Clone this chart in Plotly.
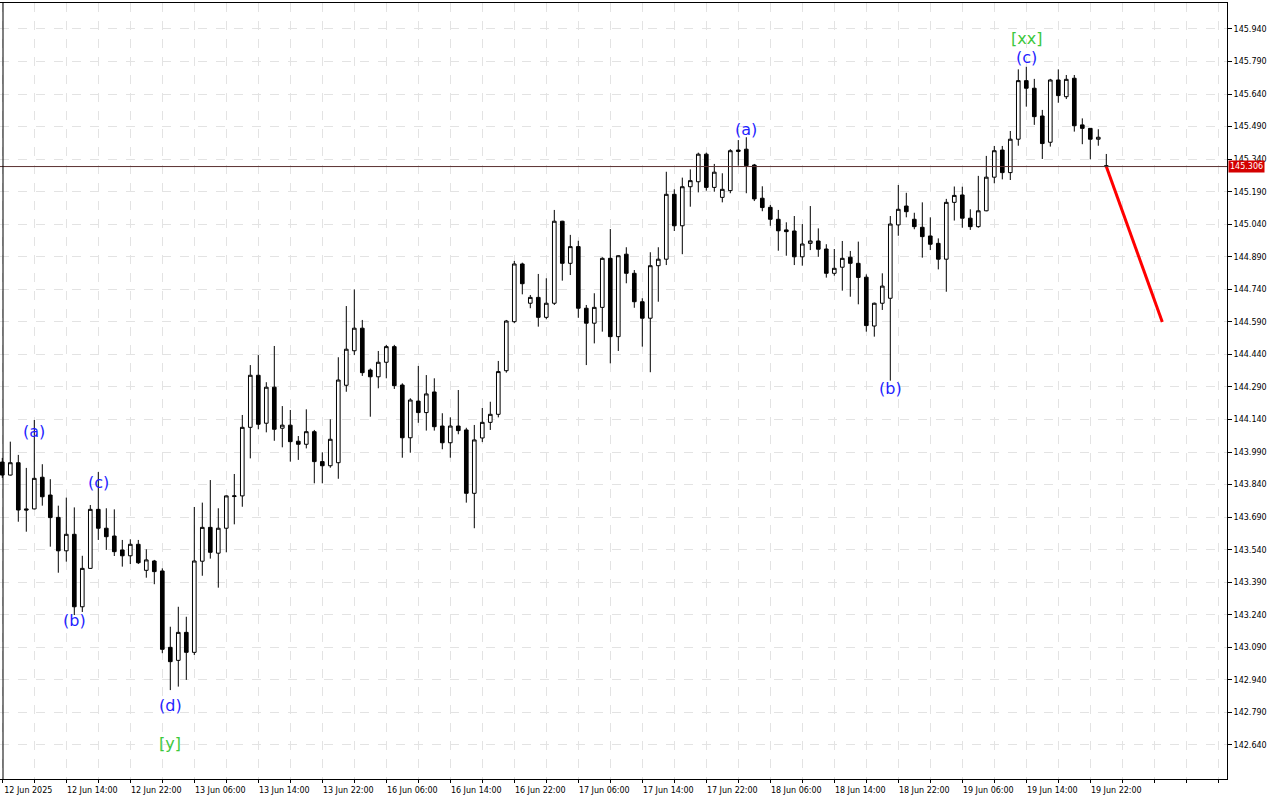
import plotly.graph_objects as go

# ---------------- data ----------------
open_ = [143.944,143.884,143.941,143.728,143.728,143.874,143.792,143.689,143.535,143.611,
         143.277,143.454,143.726,143.639,143.603,143.539,143.512,143.565,143.445,143.488,
         143.442,143.090,143.030,143.159,143.067,143.487,143.643,143.524,143.639,143.785,
         143.788,144.104,144.344,144.123,144.289,144.100,144.114,144.040,144.026,144.084,
         143.946,143.927,143.941,144.298,144.457,144.561,144.368,144.337,144.404,144.476,
         144.299,144.056,144.225,144.172,144.267,144.110,144.033,144.110,144.092,143.800,
         144.055,144.127,144.164,144.365,144.591,144.857,144.676,144.703,144.611,144.676,
         145.054,144.860,144.937,144.653,144.584,144.657,144.883,144.522,144.902,144.814,
         144.683,144.607,144.849,144.879,145.178,145.033,145.213,145.236,145.363,145.210,
         145.164,145.195,145.382,145.386,145.313,145.160,145.118,145.063,145.014,145.009,
         144.890,144.952,144.963,144.926,144.814,144.842,144.888,144.860,144.796,144.571,
         144.676,144.699,145.037,145.124,145.063,145.026,144.986,144.952,144.879,145.141,
         145.175,145.068,145.029,145.102,145.257,145.382,145.278,145.432,145.702,145.667,
         145.539,145.418,145.705,145.628,145.713,145.498,145.482,145.432,145.310]
high = [143.963,144.038,143.977,143.917,144.138,143.934,143.865,143.743,143.780,143.735,
        143.512,143.746,143.898,143.731,143.726,143.585,143.588,143.585,143.542,143.493,
        143.454,143.185,143.277,143.231,143.737,143.757,143.861,143.731,143.790,143.889,
        144.161,144.391,144.437,144.312,144.479,144.202,144.184,144.064,144.187,144.092,
        143.989,144.141,144.427,144.663,144.740,144.599,144.375,144.456,144.484,144.484,
        144.307,144.238,144.387,144.345,144.330,144.169,144.150,144.276,144.102,144.115,
        144.193,144.222,144.410,144.599,144.871,144.863,144.714,144.811,144.791,145.106,
        145.056,144.991,144.964,144.668,144.722,144.888,145.018,144.897,144.934,144.829,
        144.699,144.911,144.934,145.282,145.201,145.255,145.293,145.370,145.370,145.318,
        145.275,145.386,145.428,145.441,145.318,145.215,145.129,145.106,145.049,145.078,
        145.041,145.124,145.021,144.948,144.926,144.963,144.917,144.960,144.809,144.679,
        144.814,145.078,145.221,145.185,145.093,145.141,145.072,144.975,145.157,145.214,
        145.213,145.109,145.263,145.355,145.401,145.401,145.470,145.754,145.766,145.710,
        145.567,145.710,145.754,145.728,145.728,145.528,145.483,145.478,145.364]
low = [143.871,143.882,143.669,143.623,143.726,143.743,143.554,143.434,143.485,143.239,
       143.253,143.452,143.585,143.539,143.511,143.462,143.474,143.474,143.411,143.381,
       143.063,142.893,142.909,142.940,143.055,143.420,143.499,143.365,143.528,143.657,
       143.738,143.961,144.095,144.081,144.042,144.012,143.946,143.954,144.007,143.846,
       143.846,143.918,143.867,144.268,144.437,144.341,144.153,144.284,144.330,144.281,
       143.964,143.987,144.125,144.089,144.089,144.003,143.964,144.072,143.757,143.639,
       144.036,144.092,144.150,144.356,144.584,144.717,144.653,144.568,144.602,144.668,
       144.780,144.806,144.609,144.391,144.491,144.545,144.399,144.456,144.768,144.655,
       144.476,144.358,144.683,144.852,145.009,144.902,145.121,145.187,145.195,145.190,
       145.141,145.183,145.310,145.183,145.147,145.100,145.033,144.918,144.895,144.852,
       144.849,144.921,144.890,144.794,144.803,144.734,144.706,144.671,144.545,144.522,
       144.645,144.319,144.987,145.072,145.017,144.886,144.921,144.832,144.729,145.057,
       145.024,145.014,145.024,145.100,145.229,145.247,145.244,145.402,145.582,145.498,
       145.341,145.398,145.600,145.617,145.467,145.409,145.339,145.402,145.303]
close = [143.884,143.941,143.723,143.723,143.869,143.784,143.688,143.535,143.611,143.277,
         143.454,143.726,143.639,143.600,143.531,143.512,143.565,143.480,143.493,143.439,
         143.081,143.024,143.159,143.067,143.488,143.643,143.528,143.639,143.788,143.788,
         144.104,144.344,144.118,144.289,144.095,144.114,144.038,144.026,144.084,143.946,
         143.927,144.049,144.322,144.464,144.561,144.356,144.337,144.404,144.476,144.296,
         144.056,144.230,144.172,144.258,144.107,144.033,144.110,144.089,143.800,144.046,
         144.127,144.164,144.361,144.594,144.857,144.766,144.703,144.611,144.676,145.054,
         144.860,144.937,144.653,144.584,144.657,144.883,144.522,144.895,144.814,144.683,
         144.607,144.849,144.879,145.178,145.033,145.213,145.241,145.363,145.210,145.280,
         145.201,145.379,145.376,145.310,145.157,145.117,145.063,145.010,145.006,144.890,
         144.949,144.963,144.925,144.814,144.837,144.883,144.860,144.795,144.573,144.676,
         144.755,145.041,145.109,145.098,145.029,144.983,144.948,144.879,145.141,145.173,
         145.068,145.029,145.102,145.257,145.379,145.278,145.432,145.702,145.667,145.536,
         145.412,145.705,145.633,145.708,145.494,145.482,145.432,145.441,145.306]

time_labels = ["12 Jun 2025", "12 Jun 14:00", "12 Jun 22:00", "13 Jun 06:00", "13 Jun 14:00",
               "13 Jun 22:00", "16 Jun 06:00", "16 Jun 14:00", "16 Jun 22:00", "17 Jun 06:00",
               "17 Jun 14:00", "17 Jun 22:00", "18 Jun 06:00", "18 Jun 14:00", "18 Jun 22:00",
               "19 Jun 06:00", "19 Jun 14:00", "19 Jun 22:00"]
label_step = 8
grid_step = 4

y_ticks = [round(142.64 + 0.15 * i, 3) for i in range(23)]
current_price = 145.306

forecast_x = [138, 145]
forecast_y = [145.306, 144.590]

wave_text = ["(a)", "(b)", "(c)", "(d)", "[y]", "(a)", "(b)", "(c)", "[xx]"]
wave_x = [4, 9, 12, 21, 21, 93, 111, 128, 128]
wave_y = [144.087, 143.216, 143.852, 142.820, 142.649, 145.479, 144.281, 145.807, 145.894]
wave_color = ["blue", "blue", "blue", "blue", "green", "blue", "blue", "blue", "green"]

# ---------------- figure ----------------
idx = list(range(len(open_)))
fig = go.Figure()
fig.add_trace(go.Candlestick(
    x=idx, open=open_, high=high, low=low, close=close,
    increasing=dict(fillcolor="white", line=dict(color="black", width=1)),
    decreasing=dict(fillcolor="black", line=dict(color="black", width=1)),
    whiskerwidth=0, showlegend=False, hoverinfo="skip"))

fig.add_trace(go.Scatter(x=forecast_x, y=forecast_y, mode="lines",
                         line=dict(color="#ff0000", width=3), showlegend=False, hoverinfo="skip"))

colors = {"blue": "#1f1fff", "green": "#3cc83c"}
for t, x, y, c in zip(wave_text, wave_x, wave_y, wave_color):
    fig.add_annotation(x=x, y=y, text=t, showarrow=False,
                       font=dict(family="DejaVu Sans", size=16, color=colors[c]))

# price line and label
fig.add_shape(type="line", xref="paper", x0=0, x1=1, yref="y", y0=current_price, y1=current_price,
              line=dict(color="#5a3030", width=1))
fig.add_annotation(xref="paper", x=1, xanchor="left", xshift=1, y=current_price, yref="y",
                   text=f"{current_price:.3f}", showarrow=False, bgcolor="#d40000",
                   font=dict(family="DejaVu Sans", size=8, color="white"), borderpad=1)
# left frame line
fig.add_shape(type="line", xref="paper", yref="paper", x0=3/1227, x1=3/1227, y0=0, y1=1,
              line=dict(color="black", width=1))

tickvals = list(range(0, 153, grid_step))
ticktext = [time_labels[v // label_step] if v % label_step == 0 and v // label_step < len(time_labels) else ""
            for v in tickvals]

fig.update_layout(
    width=1280, height=800,
    margin=dict(l=0, r=53, t=3, b=21),
    paper_bgcolor="white", plot_bgcolor="white",
    template="none",
    boxgap=0.35,
    font=dict(family="DejaVu Sans", size=8, color="black"),
    xaxis=dict(range=[-0.2875, 153.0875], rangeslider=dict(visible=False),
               tickvals=tickvals, ticktext=ticktext, ticklabelshift=26,
               showgrid=True, gridcolor="#e3e3e3", griddash="dash", gridwidth=1,
               showline=True, linecolor="black", linewidth=1, mirror=True,
               ticks="outside", ticklen=3, tickcolor="black", zeroline=False,
               automargin=False, tickfont=dict(size=8)),
    yaxis=dict(range=[142.4832, 146.0598], side="right",
               tickvals=y_ticks, ticktext=[f"{v:.3f}" for v in y_ticks],
               showgrid=True, gridcolor="#e3e3e3", griddash="dash", gridwidth=1,
               showline=True, linecolor="black", linewidth=1,
               ticks="outside", ticklen=4, tickcolor="black", zeroline=False,
               automargin=False, tickfont=dict(size=8)),
)

fig.write_html("out.html", config={"displayModeBar": False},
               post_script="document.body.style.margin='0';document.body.style.overflow='hidden';")
